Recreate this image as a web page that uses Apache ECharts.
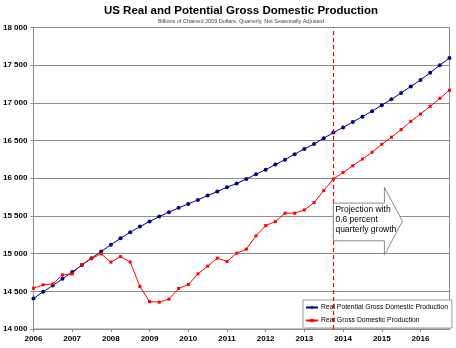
<!DOCTYPE html>
<html>
<head>
<meta charset="utf-8">
<script src="https://cdn.jsdelivr.net/npm/echarts@6/dist/echarts.min.js"></script>
<style>
  html, body { margin: 0; padding: 0; background: #fff; }
  #chart { width: 456px; height: 348px; }
</style>
</head>
<body>
<div id="chart"></div>
<script>
// Years shown on the horizontal axis; each year holds four quarters.
const years = ['2006', '2007', '2008', '2009', '2010', '2011', '2012', '2013', '2014', '2015', '2016'];
const quarters = ['Q1', 'Q2', 'Q3', 'Q4'];
const categories = [];
years.forEach(y => quarters.forEach(q => categories.push(y + q)));

// Real potential GDP, billions of chained 2009 dollars
const potentialGdp = [
  14405, 14494, 14577, 14666, 14755, 14848, 14940, 15028,
  15117, 15203, 15284, 15359, 15425, 15491, 15550, 15607,
  15660, 15713, 15770, 15823, 15881, 15929, 15991, 16053,
  16114, 16181, 16247, 16319, 16389, 16455, 16530, 16606,
  16674, 16747, 16817, 16890, 16969, 17047, 17131, 17217,
  17304, 17399, 17500, 17595
];

// Real GDP (actual through 2013Q4, projected afterwards)
const realGdp = [
  14542, 14586, 14598, 14718, 14731, 14855, 14934, 14997,
  14887, 14961, 14889, 14563, 14364, 14356, 14396, 14537,
  14589, 14731, 14834, 14940, 14895, 15006, 15059, 15235,
  15372, 15425, 15536, 15536, 15580, 15677, 15836, 15990,
  16075, 16165, 16255, 16345, 16450, 16545, 16645, 16755,
  16852, 16955, 17060, 17168
];

// Start of the projection period
const projectionStart = '2013Q4';

const yTicks = { min: 14000, max: 18000, step: 500 };

const FONT = '"Liberation Sans", Arial, sans-serif';
const GRID_COLOR = '#8c8c8c';

const chart = echarts.init(document.getElementById('chart'), null, { renderer: 'canvas' });

chart.setOption({
  animation: false,
  backgroundColor: '#ffffff',
  textStyle: { fontFamily: FONT },
  title: [
    {
      text: 'US Real and Potential Gross Domestic Production',
      left: 236, top: 0, textAlign: 'center',
      textStyle: { fontFamily: FONT, fontSize: 11.5, fontWeight: 'bold', color: '#000' }
    },
    {
      text: 'Billions of Chained 2009 Dollars, Quarterly, Not Seasonally Adjusted',
      left: 236, top: 13, textAlign: 'center',
      textStyle: { fontFamily: FONT, fontSize: 5.5, fontWeight: 'normal', color: '#444' }
    }
  ],
  grid: {
    left: 32, right: 6.5, top: 27.5, bottom: 19,
    show: true, borderColor: GRID_COLOR, borderWidth: 1,
    backgroundColor: 'transparent'
  },
  legend: {
    orient: 'vertical',
    left: 303, top: 300,
    padding: [4, 4, 4, 2],
    itemGap: 6,
    itemWidth: 12, itemHeight: 4,
    backgroundColor: '#ffffff',
    borderColor: '#999', borderWidth: 1,
    textStyle: { fontFamily: FONT, fontSize: 6.8, color: '#000', padding: [0, 0, 0, -2] },
    data: ['Real Potential Gross Domestic Production', 'Real Gross Domestic Production']
  },
  xAxis: {
    type: 'category',
    data: categories,
    boundaryGap: false,
    axisLine: { lineStyle: { color: GRID_COLOR, width: 1 } },
    axisTick: { show: true, interval: 3, length: 3, lineStyle: { color: GRID_COLOR } },
    axisLabel: {
      interval: 3,
      margin: 6,
      fontFamily: FONT, fontSize: 8, fontWeight: 'bold', color: '#000',
      formatter: v => v.slice(0, 4)
    },
    splitLine: { show: false }
  },
  yAxis: {
    type: 'value',
    min: yTicks.min, max: yTicks.max, interval: yTicks.step,
    axisLine: { show: true, lineStyle: { color: GRID_COLOR, width: 1 } },
    axisTick: { show: true, length: 3, lineStyle: { color: GRID_COLOR } },
    axisLabel: {
      margin: 6,
      fontFamily: FONT, fontSize: 8, fontWeight: 'bold', color: '#000',
      formatter: v => String(v).replace(/\B(?=(\d{3})+(?!\d))/g, ' ')
    },
    splitLine: { show: true, lineStyle: { color: GRID_COLOR, width: 1 } }
  },
  series: [
    {
      name: 'Real Potential Gross Domestic Production',
      type: 'line',
      data: potentialGdp,
      symbol: 'circle', symbolSize: 4,
      lineStyle: { color: '#000080', width: 1 },
      itemStyle: { color: '#000080' },
      z: 3
    },
    {
      name: 'Real Gross Domestic Production',
      type: 'line',
      data: realGdp,
      symbol: 'rect', symbolSize: 3,
      lineStyle: { color: '#ff0000', width: 1 },
      itemStyle: { color: '#ff0000' },
      z: 4,
      markLine: {
        silent: true,
        symbol: 'none',
        label: { show: false },
        lineStyle: { color: '#ff0000', type: [4, 3], width: 1.2 },
        data: [{ xAxis: projectionStart }]
      }
    }
  ]
});

// Block arrow pointing into the projection period, anchored on the dashed line
function drawArrow() {
  const x0 = chart.convertToPixel({ xAxisIndex: 0 }, projectionStart);
  const yTop = chart.convertToPixel({ yAxisIndex: 0 }, 15670);
  const yBot = chart.convertToPixel({ yAxisIndex: 0 }, 15170);
  const yHeadTop = chart.convertToPixel({ yAxisIndex: 0 }, 15880);
  const yHeadBot = chart.convertToPixel({ yAxisIndex: 0 }, 14980);
  const yTip = (yHeadTop + yHeadBot) / 2;
  const xHead = x0 + 51;
  const xTip = x0 + 69;
  chart.setOption({
    graphic: [
      {
        type: 'polygon',
        z: 10,
        shape: {
          points: [
            [x0, yTop], [xHead, yTop], [xHead, yHeadTop], [xTip, yTip],
            [xHead, yHeadBot], [xHead, yBot], [x0, yBot]
          ]
        },
        style: { fill: '#ffffff', stroke: '#8c8c8c', lineWidth: 1 }
      },
      {
        type: 'text',
        z: 11,
        x: x0 + 2,
        y: yTop + 2,
        style: {
          text: 'Projection with\n0.6 percent\nquarterly growth',
          fontFamily: FONT, fontSize: 8.5, lineHeight: 10, fill: '#000'
        }
      }
    ]
  });
}
drawArrow();
</script>
</body>
</html>
